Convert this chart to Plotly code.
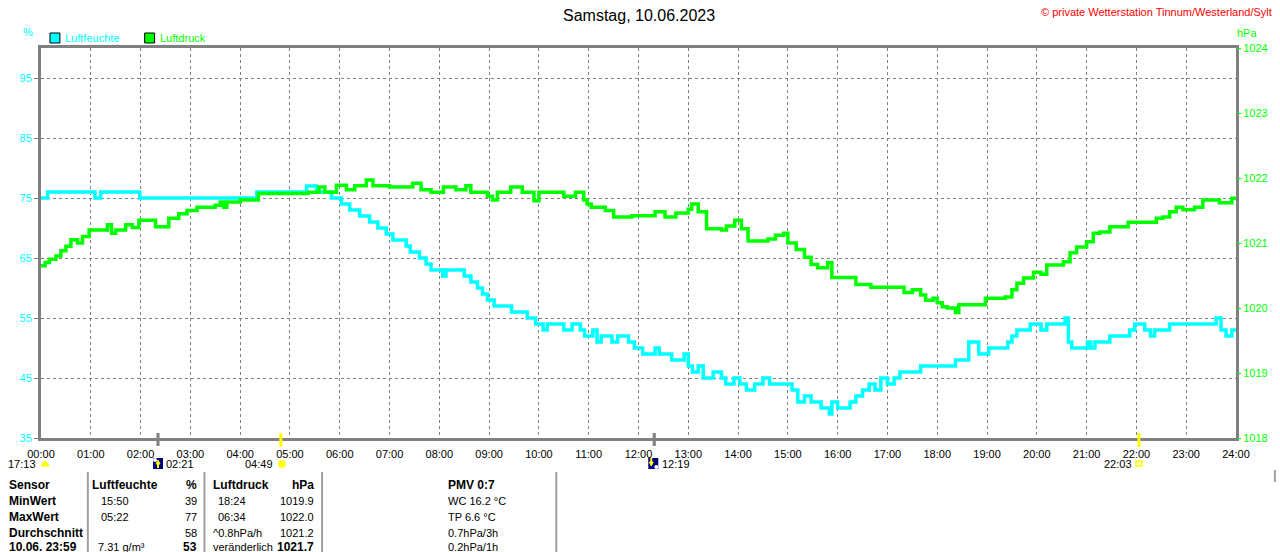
import plotly.graph_objects as go

# ---------------- data ----------------
hum_time = ["00:00","00:08","01:05","01:12","01:59","04:20","05:20","05:32","05:50","06:02",
            "06:12","06:24","06:36","06:46","06:56","07:04","07:20","07:25","07:36","07:44",
            "07:50","08:04","08:08","08:30","08:38","08:46","08:52","08:58","09:06","09:27",
            "09:46","09:56","10:05","10:10","10:30","10:40","10:50","10:55","11:05","11:10",
            "11:15","11:28","11:35","11:48","11:55","12:05","12:20","12:25","12:40","12:55",
            "13:00","13:05","13:12","13:18","13:30","13:40","13:45","13:55","14:02","14:10",
            "14:20","14:30","14:38","15:05","15:12","15:20","15:28","15:40","15:50","15:53",
            "16:00","16:15","16:22","16:30","16:38","16:45","16:52","17:00","17:08","17:15",
            "17:40","18:22","18:38","18:50","19:02","19:25","19:30","19:36","19:52","20:05",
            "20:12","20:34","20:38","20:42","21:01","21:05","21:10","21:28","21:52","21:58",
            "22:10","22:17","22:22","22:40","23:36","23:42","23:48","23:55","24:00"]
hum_val = [75,76,75,76,75,76,77,76,75,74,
           73,72,71,70,69,68,67,66,65,64,
           63,62,63,62,61,60,59,58,57,56,
           55,54,53,54,53,54,53,52,53,51,
           52,51,52,51,50,49,50,49,48,49,
           47,46,47,45,46,45,44,45,44,43,
           44,45,44,43,41,42,41,40,39,41,
           40,41,42,43,44,43,45,44,45,46,
           47,48,51,49,50,51,52,53,54,53,
           54,55,51,50,51,50,51,52,53,54,
           53,52,53,54,55,53,52,53,53]

pres_time = ["00:00","00:05","00:10","00:18","00:24","00:30","00:36","00:44","00:50","00:58",
             "01:20","01:25","01:30","01:42","01:50","01:58","02:18","02:34","02:46","02:56",
             "03:08","03:30","03:36","03:40","03:44","04:00","04:22","05:22","05:35","05:42",
             "05:56","06:08","06:18","06:32","06:40","07:00","07:28","07:38","07:50","08:05",
             "08:20","08:32","08:38","08:58","09:04","09:10","09:26","09:40","09:54","10:00",
             "10:30","10:44","10:54","10:58","11:03","11:20","11:30","11:52","12:20","12:32",
             "12:45","13:00","13:04","13:12","13:22","13:40","13:46","13:56","14:04","14:12",
             "14:36","14:45","14:55","15:00","15:10","15:20","15:28","15:36","15:48","15:53",
             "16:22","16:40","17:20","17:30","17:40","17:46","17:55","18:00","18:06","18:12",
             "18:22","18:26","18:58","19:22","19:30","19:36","19:44","19:56","20:05","20:12",
             "20:32","20:40","20:48","21:00","21:08","21:16","21:28","21:50","22:24","22:32",
             "22:40","22:48","22:56","23:10","23:20","23:40","23:55","24:00"]
pres_val = [1020.65,1020.70,1020.75,1020.80,1020.88,1020.95,1021.05,1021.00,1021.10,1021.20,
            1021.28,1021.15,1021.20,1021.28,1021.24,1021.35,1021.25,1021.38,1021.45,1021.50,
            1021.55,1021.58,1021.63,1021.55,1021.63,1021.66,1021.76,1021.78,1021.86,1021.78,
            1021.89,1021.82,1021.88,1021.97,1021.88,1021.86,1021.92,1021.82,1021.78,1021.86,
            1021.82,1021.88,1021.78,1021.72,1021.66,1021.78,1021.86,1021.78,1021.65,1021.78,
            1021.72,1021.78,1021.66,1021.60,1021.55,1021.50,1021.40,1021.42,1021.48,1021.40,
            1021.46,1021.52,1021.60,1021.48,1021.22,1021.20,1021.26,1021.35,1021.22,1021.03,
            1021.06,1021.12,1021.15,1021.00,1020.90,1020.78,1020.67,1020.62,1020.70,1020.47,
            1020.36,1020.32,1020.24,1020.28,1020.20,1020.12,1020.15,1020.08,1020.02,1020.00,
            1019.93,1020.05,1020.15,1020.17,1020.28,1020.38,1020.46,1020.55,1020.52,1020.66,
            1020.71,1020.85,1020.94,1021.02,1021.15,1021.17,1021.25,1021.32,1021.38,1021.40,
            1021.48,1021.55,1021.51,1021.55,1021.66,1021.62,1021.69,1021.70]

hour_labels = ["%02d:00" % h for h in range(25)]
hum_ticks = [35, 45, 55, 65, 75, 85, 95]
pres_ticks = [1018, 1019, 1020, 1021, 1022, 1023, 1024]

event_times = ["17:13", "02:21", "04:49", "12:19", "22:03"]
event_kinds = ["moonset_prev", "moonrise", "sunrise", "moonset", "sunset"]

table_head = ["Sensor", "Luftfeuchte", "%", "Luftdruck", "hPa", "PMV 0:7"]
row_names = ["MinWert", "MaxWert", "Durchschnitt", "10.06. 23:59"]
hum_when = ["15:50", "05:22", "", "7.31 g/m³"]
hum_stat = ["39", "77", "58", "53"]
pres_when = ["18:24", "06:34", "^0.8hPa/h", "veränderlich"]
pres_stat = ["1019.9", "1022.0", "1021.2", "1021.7"]
extra_col = ["WC 16.2 °C", "TP 6.6 °C", "0.7hPa/3h", "0.2hPa/1h"]

# ---------------- helpers ----------------
def hrs(t):
    h, m = t.split(":")
    return int(h) + int(m) / 60.0

PL, PR, PT, PB = 41, 1240, 48, 438
def fx(px):
    return (px - PL) / (PR - PL)
def fy(py):
    return (PB - py) / (PB - PT)

CYAN = "#00FFFF"
LIME = "#00FF00"
GRAY = "#808080"
FONT = "Liberation Sans"

fig = go.Figure()
fig.add_trace(go.Scatter(x=[hrs(t) for t in pres_time], y=pres_val, yaxis="y2",
                         mode="lines", line=dict(color=LIME, width=3.5, shape="hv"),
                         name="Luftdruck", showlegend=False))
fig.add_trace(go.Scatter(x=[hrs(t) for t in hum_time], y=hum_val,
                         mode="lines", line=dict(color=CYAN, width=3.5, shape="hv"),
                         name="Luftfeuchte", showlegend=False))

shapes = []
ann = []

def text(px, py, s, anchor="left", color="black", size=11, bold=False):
    ann.append(dict(xref="paper", yref="paper", x=fx(px), y=fy(py), text=("<b>%s</b>" % s) if bold else s,
                    showarrow=False, xanchor=anchor, yanchor="middle",
                    font=dict(family=FONT, size=size, color=color), borderpad=0))

# title and header texts
text(641, 15, "Samstag, 10.06.2023", anchor="center", size=16)
text(1277, 12, "© private Wetterstation Tinnum/Westerland/Sylt", anchor="right", color="#FF0000", size=11)
text(22, 32, "%", anchor="left", color=CYAN, size=11)
text(1240, 33, "hPa", anchor="left", color=LIME, size=11)
# legend
for (x0, col, lab) in [(50, CYAN, "Luftfeuchte"), (145, LIME, "Luftdruck")]:
    shapes.append(dict(type="rect", xref="paper", yref="paper", x0=fx(x0), x1=fx(x0 + 10),
                       y0=fy(43), y1=fy(33), fillcolor=col, line=dict(color="black", width=1)))
    text(x0 + 14, 38, lab, color=col, size=11)

# sun / moon events on the time axis
for t, k in zip(event_times, event_kinds):
    xh = hrs(t)
    if k == "moonset_prev":
        xh = 0.0
    if k in ("moonrise", "moonset"):
        shapes.append(dict(type="line", xref="x", yref="paper", xsizemode="pixel", ysizemode="pixel",
                           xanchor=xh, yanchor=0, x0=0, x1=0, y0=-8, y1=5,
                           line=dict(color=GRAY, width=3)))
    elif k in ("sunrise", "sunset"):
        shapes.append(dict(type="line", xref="x", yref="paper", xsizemode="pixel", ysizemode="pixel",
                           xanchor=xh, yanchor=0, x0=0, x1=0, y0=-9, y1=5,
                           line=dict(color="#FFFF00", width=3)))
    base = dict(xref="x", yref="paper", xsizemode="pixel", ysizemode="pixel", xanchor=xh, yanchor=0)
    if k == "moonrise":
        shapes.append(dict(type="rect", x0=-5, x1=5, y0=-31, y1=-20, fillcolor="#000080",
                           line=dict(width=0), **base))
        shapes.append(dict(type="circle", x0=-5, x1=-1, y0=-24, y1=-20, fillcolor="white",
                           line=dict(width=0), **base))
        shapes.append(dict(type="path", path="M -2,-26 L 0,-22 L 2,-26 Z", fillcolor="#FFFF00",
                           line=dict(color="#FFFF00", width=1), **base))
        shapes.append(dict(type="line", x0=0, x1=0, y0=-30, y1=-25,
                           line=dict(color="#FFFF00", width=2), **base))
        text(157 + 8, 463.5, t)
    elif k == "moonset":
        shapes.append(dict(type="rect", x0=-6, x1=4, y0=-31, y1=-20, fillcolor="#000080",
                           line=dict(width=0), **base))
        shapes.append(dict(type="circle", x0=0, x1=4, y0=-31, y1=-27, fillcolor="white",
                           line=dict(width=0), **base))
        shapes.append(dict(type="path", path="M -5,-24 L -3,-28 L -1,-24 Z", fillcolor="#FFFF00",
                           line=dict(color="#FFFF00", width=1), **base))
        shapes.append(dict(type="line", x0=-3, x1=-3, y0=-20, y1=-25,
                           line=dict(color="#FFFF00", width=2), **base))
        text(663, 463.5, t)
    elif k == "sunrise":
        shapes.append(dict(type="circle", x0=-3, x1=5, y0=-30, y1=-22, fillcolor="#FFFF00",
                           line=dict(color="#FFFF80", width=1), **base))
        text(275, 463.5, t, anchor="right")
    elif k == "sunset":
        shapes.append(dict(type="rect", x0=-3, x1=3, y0=-28, y1=-23, fillcolor="#FFFFC0",
                           line=dict(color="#FFFF00", width=1.5), **base))
        text(1137, 463.5, t, anchor="right")
    elif k == "moonset_prev":
        shapes.append(dict(type="path", path="M 0,-28 Q 4,-19 8,-28 Z", fillcolor="#FFFF00",
                           line=dict(color="#FFFF00", width=1), **base))
        text(37, 463.5, t, anchor="right")

# table
for xv in [88, 205, 323, 558, 1279]:
    shapes.append(dict(type="line", xref="paper", yref="paper", x0=fx(xv), x1=fx(xv),
                       y0=fy(472 if xv != 1279 else 470), y1=fy(552 if xv != 1279 else 482),
                       line=dict(color="#A0A0A0", width=2)))
hy = 485
text(8, hy, table_head[0], bold=True, size=12)
text(91, hy, table_head[1], bold=True, size=12)
text(199, hy, table_head[2], anchor="right", bold=True, size=12)
text(213, hy, table_head[3], bold=True, size=12)
text(316, hy, table_head[4], anchor="right", bold=True, size=12)
text(448, hy, table_head[5], bold=True, size=12)
row_y = [501, 517, 533, 547]
for i, ry in enumerate(row_y):
    last = i == 3
    text(8, ry, row_names[i], bold=True, size=12)
    if hum_when[i]:
        text(100 if i < 2 else 97, ry, hum_when[i], size=11)
    text(199, ry, hum_stat[i], anchor="right", bold=last, size=12 if last else 11)
    text(218 if i < 2 else 213, ry, pres_when[i], size=11)
    text(316, ry, pres_stat[i], anchor="right", bold=last, size=12 if last else 11)
    text(448, ry, extra_col[i], size=11)

fig.update_layout(
    width=1280, height=552,
    margin=dict(l=PL, r=1280 - PR, t=PT, b=552 - PB, pad=0),
    paper_bgcolor="white", plot_bgcolor="white",
    showlegend=False,
    xaxis=dict(range=[0, 24], tickmode="array", tickvals=list(range(25)), ticktext=hour_labels,
               showgrid=True, gridcolor=GRAY, griddash="3px,3px", gridwidth=1,
               showline=True, linecolor=GRAY, linewidth=3, mirror=True,
               ticks="", tickfont=dict(family=FONT, size=11, color="black"),
               ticklabelstandoff=4, zeroline=False, fixedrange=True),
    yaxis=dict(range=[35, 100], tickmode="array", tickvals=hum_ticks,
               showgrid=True, gridcolor=GRAY, griddash="3px,3px", gridwidth=1,
               showline=True, linecolor=GRAY, linewidth=3, mirror=True,
               ticks="outside", ticklen=4, tickcolor=GRAY,
               tickfont=dict(family=FONT, size=11, color=CYAN), zeroline=False),
    yaxis2=dict(range=[1018, 1024], tickmode="array", tickvals=pres_ticks, overlaying="y",
                side="right", showgrid=False, ticks="outside", ticklen=4, tickcolor=LIME,
                tickfont=dict(family=FONT, size=11, color=LIME), zeroline=False, showline=False),
    shapes=shapes,
    annotations=ann,
)

fig.write_html("out.html", config={"displayModeBar": False},
               post_script="document.body.style.margin='0px';document.body.style.padding='0px';document.body.style.overflow='hidden';")
